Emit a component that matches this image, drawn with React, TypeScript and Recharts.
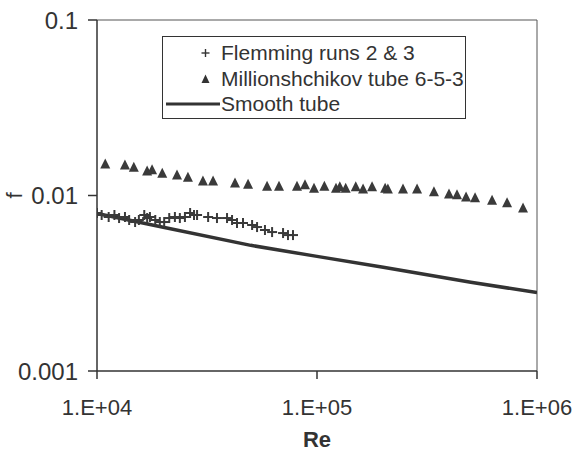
import {
  ScatterChart,
  Scatter,
  XAxis,
  YAxis,
  Legend,
  ReferenceLine,
  Label,
} from "recharts";

// Reynolds number / friction factor
const FLEMMING_RE = [
  1.0e4, 1.05e4, 1.13e4, 1.2e4, 1.26e4, 1.34e4, 1.4e4, 1.49e4, 1.55e4, 1.64e4,
  1.69e4, 1.74e4, 1.84e4, 1.93e4, 2.02e4, 2.13e4, 2.26e4, 2.38e4, 2.51e4, 2.65e4,
  2.76e4, 2.85e4, 3.2e4, 3.51e4, 3.9e4, 4.11e4, 4.33e4, 4.61e4, 5.07e4, 5.34e4,
  5.8e4, 6.25e4, 7.01e4, 7.38e4, 7.78e4,
];
const FLEMMING_F = [
  0.00795, 0.00774, 0.00754, 0.00774, 0.00744, 0.00754, 0.00725, 0.00706, 0.00725, 0.00774,
  0.00744, 0.00754, 0.00725, 0.00706, 0.00706, 0.00744, 0.00754, 0.00744, 0.00754, 0.00795,
  0.00774, 0.00774, 0.00754, 0.00744, 0.00744, 0.00725, 0.00697, 0.00697, 0.00679, 0.00661,
  0.00636, 0.00619, 0.00611, 0.00595, 0.00595,
];

const MILLION_RE = [
  1.09e4, 1.34e4, 1.47e4, 1.69e4, 1.78e4, 1.98e4, 2.31e4, 2.59e4, 3.03e4, 3.37e4,
  4.24e4, 4.86e4, 5.93e4, 6.72e4, 8.11e4, 8.82e4, 9.69e4, 1.08e5, 1.22e5, 1.27e5,
  1.35e5, 1.5e5, 1.62e5, 1.78e5, 2.04e5, 2.1e5, 2.46e5, 2.85e5, 3.4e5, 3.98e5,
  4.33e5, 4.76e5, 5.23e5, 6.25e5, 7.31e5, 8.64e5,
];
const MILLION_F = [
  0.0151, 0.0149, 0.0145, 0.0138, 0.014, 0.0134, 0.0131, 0.0127, 0.0121, 0.0121,
  0.0118, 0.0116, 0.0113, 0.0113, 0.0113, 0.0115, 0.011, 0.0113, 0.011, 0.0112,
  0.011, 0.0112, 0.0109, 0.0112, 0.011, 0.0109, 0.0109, 0.0109, 0.0105, 0.0102,
  0.0101, 0.0098, 0.0097, 0.0094, 0.0091, 0.0085,
];

const SMOOTH_RE = [1e4, 2e4, 5e4, 1e5, 2e5, 5e5, 1e6];
const SMOOTH_F = [0.0079, 0.0066, 0.0052, 0.0045, 0.0039, 0.0032, 0.0028];

const X_TICKS = [1e4, 1e5, 1e6];
const Y_TICKS = [0.001, 0.01, 0.1];

const LEGEND_ITEMS = [
  { name: "Flemming runs 2 & 3", kind: "cross" },
  { name: "Millionshchikov tube 6-5-3", kind: "triangle" },
  { name: "Smooth tube", kind: "line" },
];

const INK = "#333";
const MARK = "#3a3a3a";
const FONT = "'Liberation Sans', Arial, sans-serif";

const flemming = FLEMMING_RE.map((re, i) => ({ re, f: FLEMMING_F[i] }));
const million = MILLION_RE.map((re, i) => ({ re, f: MILLION_F[i] }));
const smooth = SMOOTH_RE.map((re, i) => ({ re, f: SMOOTH_F[i] }));

function formatRe(v: number) {
  const exp = Math.round(Math.log10(v));
  return `1.E+${String(exp).padStart(2, "0")}`;
}

function CrossShape(props: any) {
  const { cx, cy } = props;
  return (
    <g stroke={MARK} strokeWidth={2}>
      <line x1={cx - 5} x2={cx + 5} y1={cy} y2={cy} />
      <line x1={cx} x2={cx} y1={cy - 5} y2={cy + 5} />
    </g>
  );
}

function TriangleShape(props: any) {
  const { cx, cy } = props;
  return (
    <polygon
      points={`${cx},${cy - 5.5} ${cx - 5},${cy + 4.5} ${cx + 5},${cy + 4.5}`}
      fill={MARK}
    />
  );
}

function LegendBox() {
  return (
    <div
      style={{
        border: `1.5px solid ${INK}`,
        background: "#fff",
        width: 304,
        height: 83,
        padding: "3px 0",
        boxSizing: "border-box",
        fontFamily: FONT,
        fontSize: 21,
        color: INK,
        overflow: "visible",
      }}
    >
      {LEGEND_ITEMS.map((item) => (
        <div
          key={item.name}
          style={{ display: "flex", alignItems: "center", height: 25.5, lineHeight: "25px" }}
        >
          <svg width={58} height={25} style={{ flexShrink: 0 }}>
            {item.kind === "cross" && (
              <g stroke={INK} strokeWidth={1.4}>
                <line x1={38.5} x2={46.5} y1={13} y2={13} />
                <line x1={42.5} x2={42.5} y1={9} y2={17} />
              </g>
            )}
            {item.kind === "triangle" && (
              <polygon points="42.5,8.5 38.5,17 46.5,17" fill={INK} />
            )}
            {item.kind === "line" && (
              <line x1={3} x2={57} y1={13} y2={13} stroke={INK} strokeWidth={3} />
            )}
          </svg>
          <span style={{ whiteSpace: "nowrap" }}>{item.name}</span>
        </div>
      ))}
    </div>
  );
}

export default function App() {
  return (
    <div
      style={{
        position: "absolute",
        left: 0,
        top: 0,
        width: 574,
        height: 453,
        background: "#fff",
      }}
    >
      <ScatterChart
        width={574}
        height={453}
        margin={{ top: 20, right: 37, bottom: 0, left: 0 }}
      >
        <XAxis
          dataKey="re"
          type="number"
          scale="log"
          domain={[1e4, 1e6]}
          ticks={X_TICKS}
          allowDataOverflow
          tickFormatter={formatRe}
          height={82}
          tickSize={8}
          tickMargin={20}
          axisLine={{ stroke: INK, strokeWidth: 1.5 }}
          tickLine={{ stroke: INK, strokeWidth: 1.5 }}
          tick={{ fontSize: 22, fill: INK, fontFamily: FONT }}
        >
          <Label
            value="Re"
            position="insideBottom"
            offset={6}
            style={{ fontSize: 22, fontWeight: "bold", fill: INK, fontFamily: FONT }}
          />
        </XAxis>
        <YAxis
          dataKey="f"
          type="number"
          scale="log"
          domain={[0.001, 0.1]}
          ticks={Y_TICKS}
          allowDataOverflow
          width={97}
          tickSize={9}
          tickMargin={10}
          axisLine={{ stroke: INK, strokeWidth: 1.5 }}
          tickLine={{ stroke: INK, strokeWidth: 1.5 }}
          tick={{ fontSize: 24, fill: INK, fontFamily: FONT }}
        >
          <Label
            value="f"
            angle={-90}
            position="insideLeft"
            offset={14}
            style={{ fontSize: 22, fill: INK, fontFamily: FONT, textAnchor: "middle" }}
          />
        </YAxis>
        <ReferenceLine y={0.1} stroke="#555" strokeWidth={1} />
        <ReferenceLine x={1e6} stroke="#555" strokeWidth={1} />
        <Scatter
          data={smooth}
          line={{ stroke: INK, strokeWidth: 3.5 }}
          lineType="joint"
          shape={() => <g />}
          isAnimationActive={false}
        />
        <Scatter data={flemming} shape={CrossShape} isAnimationActive={false} />
        <Scatter data={million} shape={TriangleShape} isAnimationActive={false} />
        <Legend
          layout="vertical"
          align="center"
          verticalAlign="middle"
          wrapperStyle={{ position: "absolute", left: 162, top: 36, width: 304 }}
          content={() => <LegendBox />}
        />
      </ScatterChart>
    </div>
  );
}
